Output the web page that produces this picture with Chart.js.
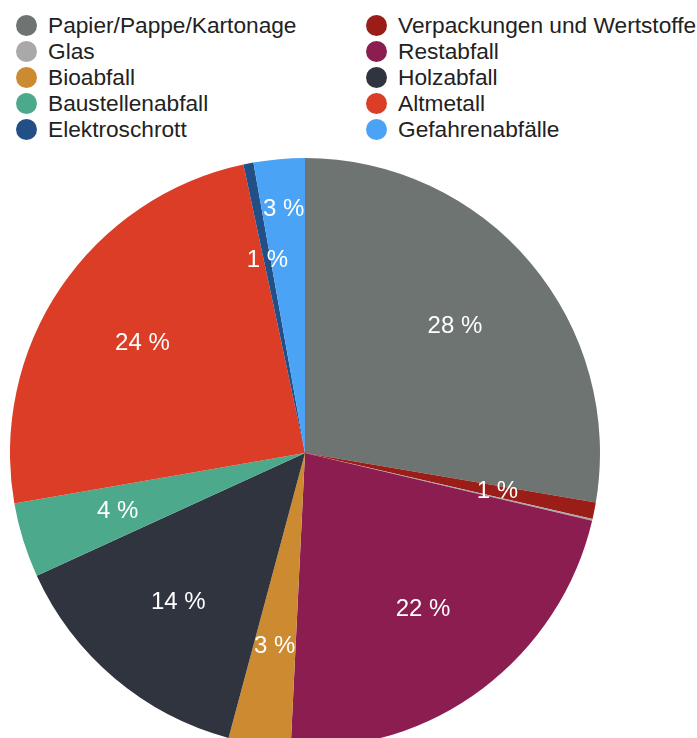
<!DOCTYPE html>
<html lang="de">
<head>
  <meta charset="UTF-8">
  <title>Abfallarten</title>
  <script src="https://cdn.jsdelivr.net/npm/chart.js"></script>
  <style>
    html, body {
      margin: 0;
      padding: 0;
      width: 697px;
      height: 738px;
      overflow: hidden;
      background: #fff;
      font-family: "Liberation Sans", Arial, sans-serif;
    }
    #legende {
      position: absolute;
      left: 16px;
      top: 12px;
      display: grid;
      grid-template-columns: 350px 330px;
      grid-auto-rows: 26px;
    }
    .eintrag {
      display: flex;
      align-items: center;
      font-size: 22.7px;
      color: #222;
      white-space: nowrap;
    }
    .punkt {
      width: 21px;
      height: 21px;
      border-radius: 50%;
      margin-right: 11px;
      flex: none;
    }
    #box {
      position: absolute;
      left: 10px;
      top: 158px;
      width: 590px;
      height: 590px;
    }
  </style>
</head>
<body>

  <div id="legende"></div>
  <div id="box"><canvas id="grafico"></canvas></div>

  <script>
    const kategorien = [
      'Papier/Pappe/Kartonage', 'Verpackungen und Wertstoffe', 'Glas', 'Restabfall',
      'Bioabfall', 'Holzabfall', 'Baustellenabfall', 'Altmetall',
      'Elektroschrott', 'Gefahrenabfälle'
    ];
    const anteile = [27.7, 0.9, 0.1, 22.1, 3.4, 14.0, 4.1, 24.4, 0.55, 2.8];
    const farben = [
      '#6e7471', '#9a1d17', '#a9a9a9', '#8b1d51',
      '#cc8a31', '#30343f', '#4da98b', '#dc3d26',
      '#224f86', '#4ba3f6'
    ];

    // Legende in zwei Spalten
    const legende = document.getElementById('legende');
    kategorien.forEach((k, i) => {
      const d = document.createElement('div');
      d.className = 'eintrag';
      d.innerHTML = '<span class="punkt" style="background:' + farben[i] + '"></span>' + k;
      legende.appendChild(d);
    });

    // Prozentwerte in die Segmente schreiben, bei Überlappung nach außen schieben
    const beschriftung = {
      id: 'beschriftung',
      afterDatasetsDraw(chart) {
        const ctx = chart.ctx;
        const meta = chart.getDatasetMeta(0);
        const belegt = [];
        ctx.save();
        ctx.fillStyle = '#fff';
        ctx.font = '24px "Liberation Sans", Arial, sans-serif';
        ctx.textAlign = 'center';
        ctx.textBaseline = 'middle';
        meta.data.forEach((arc, i) => {
          const v = anteile[i];
          if (Math.round(v) < 1) return;
          const text = Math.round(v) + ' %';
          const w = ctx.measureText(text).width;
          const abstand = 50;
          const p = arc.getProps(['x', 'y', 'startAngle', 'endAngle', 'outerRadius'], true);
          const a = (p.startAngle + p.endAngle) / 2;
          let r = p.outerRadius * 0.665;
          let x, y;
          for (let n = 0; n < 40; n++) {
            x = p.x + Math.cos(a) * r;
            y = p.y + Math.sin(a) * r;
            const stoss = belegt.some(b => Math.abs(b.x - x) < (b.w + w) / 2 && Math.abs(b.y - y) < abstand);
            if (!stoss) break;
            r += 2;
          }
          belegt.push({ x, y, w });
          ctx.fillText(text, x, y);
        });
        ctx.restore();
      }
    };

    new Chart(document.getElementById('grafico'), {
      type: 'pie',
      data: {
        labels: kategorien,
        datasets: [{
          data: anteile,
          backgroundColor: farben,
          borderWidth: 0
        }]
      },
      options: {
        responsive: true,
        maintainAspectRatio: false,
        animation: false,
        plugins: {
          legend: { display: false },
          tooltip: { enabled: false }
        }
      },
      plugins: [beschriftung]
    });
  </script>

</body>
</html>
